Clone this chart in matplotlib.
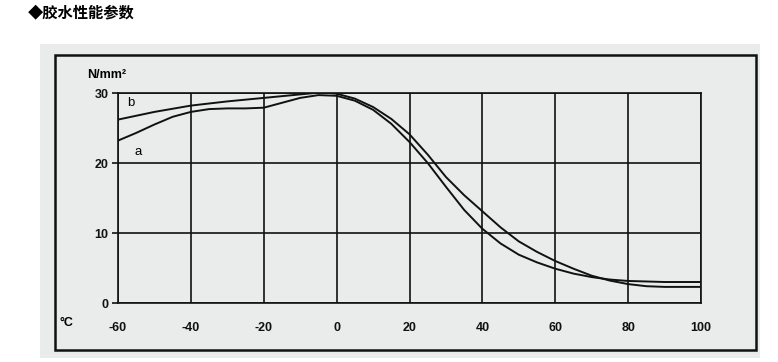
import matplotlib
matplotlib.use("Agg")
import matplotlib.pyplot as plt
from matplotlib.patches import Rectangle

# ---- data ----
temp_a = [-60, -55, -50, -45, -40, -35, -30, -25, -20, -15, -10, -5, 0, 5, 10, 15, 20, 25, 30, 35,
          40, 45, 50, 55, 60, 65, 70, 75, 80, 90, 100]
strength_a = [23.2, 24.3, 25.5, 26.6, 27.3, 27.7, 27.8, 27.8, 27.9, 28.6, 29.3, 29.7, 29.6, 28.9,
              27.6, 25.6, 23.0, 20.0, 16.6, 13.3, 10.6, 8.5, 6.9, 5.8, 4.9, 4.2, 3.7, 3.35, 3.15, 3.0, 3.0]
temp_b = [-60, -50, -40, -30, -20, -10, -4, 0, 5, 10, 15, 20, 25, 30, 35, 40, 45, 50, 55, 60,
          65, 70, 75, 80, 85, 90, 100]
strength_b = [26.2, 27.3, 28.2, 28.8, 29.3, 29.8, 30.1, 29.9, 29.2, 28.0, 26.3, 24.1, 21.2, 18.0,
              15.4, 13.1, 10.8, 8.8, 7.3, 6.0, 4.9, 3.9, 3.2, 2.7, 2.4, 2.3, 2.3]
x_ticks = [-60, -40, -20, 0, 20, 40, 60, 80, 100]
y_ticks = [0, 10, 20, 30]
title = "◆胶水性能参数"
y_unit = "N/mm²"
x_unit = "°C"

W, H = 778, 362
fig = plt.figure(figsize=(W / 100, H / 100), dpi=100)
fig.patch.set_facecolor("white")

# gray panel and outer frame
fig.patches.append(Rectangle((40 / W, 1 - 358 / H), 720 / W, 314 / H, transform=fig.transFigure,
                             facecolor="#e9ecea", edgecolor="none", zorder=0))
fig.patches.append(Rectangle((55 / W, 1 - 350 / H), 701 / W, 295 / H, transform=fig.transFigure,
                             facecolor="none", edgecolor="#111111", linewidth=1.8, zorder=1))

ax = fig.add_axes([118 / W, 1 - 303 / H, 583 / W, 210 / H])
ax.set_zorder(5)
ax.set_facecolor("#e9ecea")
ax.set_xlim(-60, 100)
ax.set_ylim(0, 30)
ax.set_xticks(x_ticks)
ax.set_yticks(y_ticks)
ax.grid(True, color="#111111", linewidth=1.2)
ax.set_axisbelow(True)
for s in ax.spines.values():
    s.set_color("#111111")
    s.set_linewidth(1.2)

tick_font = dict(family=["Liberation Sans", "DejaVu Sans"], size=9, weight="bold")
ax.set_xticklabels([str(v) for v in x_ticks], **tick_font)
ax.set_yticklabels([str(v) for v in y_ticks], **tick_font)
ax.tick_params(axis="x", length=0, pad=14, colors="#111111")
ax.tick_params(axis="y", length=4, width=1.2, pad=3, colors="#111111")

ax.plot(temp_a, strength_a, color="#111111", linewidth=1.4)
ax.plot(temp_b, strength_b, color="#111111", linewidth=1.4)

ax.text(-57.5, 28.6, "b", fontsize=9.5, family="Liberation Sans", ha="left", va="center")
ax.text(-55.5, 21.6, "a", fontsize=9.5, family="Liberation Sans", ha="left", va="center")

fig.text(87 / W, 1 - 75 / H, y_unit, fontsize=9, family=["Liberation Sans", "DejaVu Sans"],
         weight="bold", ha="left", va="center")
fig.text(59 / W, 1 - 323 / H, x_unit, fontsize=9, family=["Liberation Sans", "DejaVu Sans"],
         weight="bold", ha="left", va="center")

fig.text(28 / W, 1 - 12 / H, title, fontsize=11, weight="bold",
         family=["Noto Sans CJK SC", "DejaVu Sans"], ha="left", va="center")

fig.savefig("out.png", dpi=100)
